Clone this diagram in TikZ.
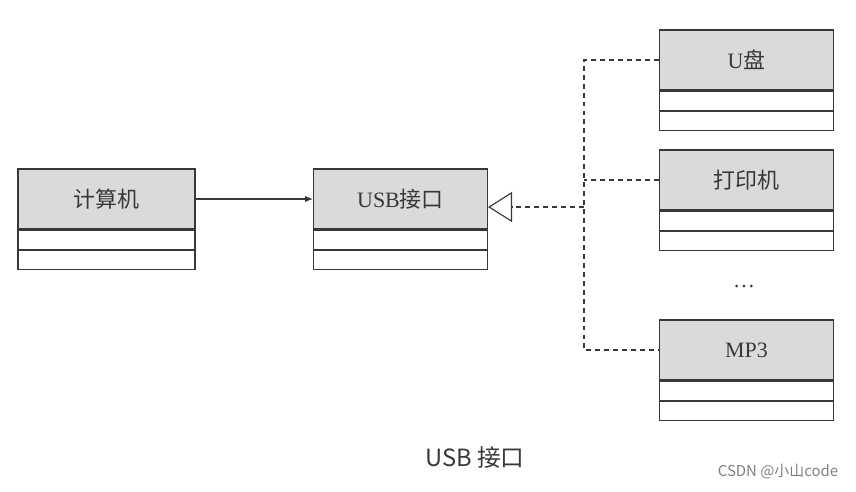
\documentclass[tikz,border=0pt]{standalone}
\usepackage{fontspec}
\setmainfont{Liberation Serif}
\newfontfamily\cjk{Noto Sans CJK SC}
\usetikzlibrary{positioning,arrows.meta}
\definecolor{ink}{HTML}{383838}
\definecolor{headgray}{HTML}{DADADA}
\begin{document}
\begin{tikzpicture}[x=0.02cm, y=-0.02cm, font=\fontsize{12.5}{14}\selectfont, text=ink,
  head/.style={draw=ink, line width=0.65pt, fill=headgray, minimum width=3.48cm, minimum height=1.2cm, inner sep=0pt},
  slot/.style={draw=ink, line width=0.65pt, fill=white, minimum width=3.48cm, minimum height=0.38cm, inner sep=0pt},
  link/.style={draw=ink, line width=0.65pt},
  realize/.style={draw=ink, line width=0.65pt, dash pattern=on 2.8pt off 2.3pt}]
\useasboundingbox (0,0) rectangle (856,491);
% classes
\node[head, minimum width=3.54cm] (pc) at (106.5,199) {\cjk 计算机};
\node[slot, minimum width=3.54cm, below=0pt of pc] (pc1) {};
\node[slot, minimum width=3.54cm, below=0pt of pc1] (pc2) {};
\node[head] (usb) at (400.5,199) {USB{\cjk 接口}};
\node[slot, below=0pt of usb] (usb1) {};
\node[slot, below=0pt of usb1] (usb2) {};
\node[head] (ud) at (746.5,60) {U{\cjk 盘}};
\node[slot, below=0pt of ud] (ud1) {};
\node[slot, below=0pt of ud1] (ud2) {};
\node[head] (pt) at (746.5,180) {\cjk 打印机};
\node[slot, below=0pt of pt] (pt1) {};
\node[slot, below=0pt of pt1] (pt2) {};
\node[head] (mp) at (746.5,350) {MP3};
\node[slot, below=0pt of mp] (mp1) {};
\node[slot, below=0pt of mp1] (mp2) {};
\node (dots) at (744,287) {\dots};
% connectors
\coordinate (bus) at (584,207);
\draw[link, -{Latex[length=4.5pt,width=3.6pt]}] (pc) -- (usb);
\draw[realize, -{Triangle[open, length=0.48cm, width=0.6cm]}] (bus) -- (usb.east |- bus);
\draw[realize] (ud.west) -| (bus) |- (mp.west);
\draw[realize] (pt.west) -- (pt.west -| bus);
% caption
\node[font=\cjk\fontsize{13.5}{15}\selectfont] (cap) at (475,458) {USB 接口};
\node[font=\cjk\fontsize{8.5}{10}\selectfont, text=gray] (mark) at (778,472) {CSDN @小山code};
\end{tikzpicture}
\end{document}
